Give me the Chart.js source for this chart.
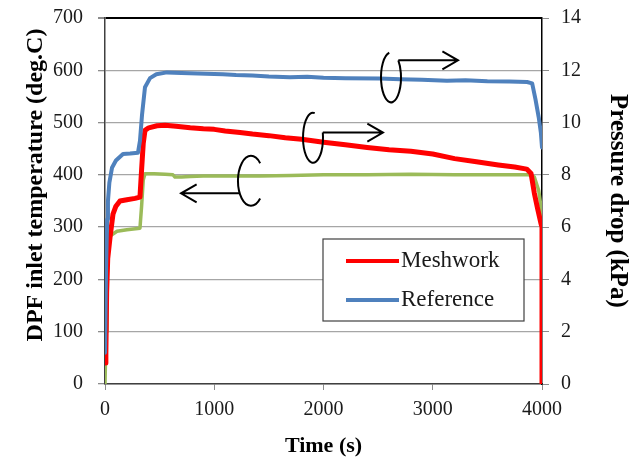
<!DOCTYPE html>
<html>
<head>
<meta charset="utf-8">
<script src="https://cdn.jsdelivr.net/npm/chart.js@4.4.1/dist/chart.umd.min.js"></script>
<style>
  html, body { margin: 0; padding: 0; background: #ffffff; }
  #grafico { display: block; }
</style>
</head>
<body>
<canvas id="grafico" width="638" height="460"></canvas>
<script>
// Time (s) and pressure drop (kPa) for the meshwork DPF
const tempoMesh = [0, 8, 15, 25, 46, 73, 100, 137, 200, 275, 320, 335, 350, 366, 400, 476, 550, 650, 780, 900,
    1000, 1100, 1236, 1350, 1500, 1650, 1800, 2000, 2200, 2400, 2600, 2800, 3000, 3200, 3400, 3600, 3750,
    3860, 3900, 3930, 3960, 3990, 4000, 4000];
const meshwork = [0.8, 1.2, 3.5, 4.8, 5.6, 6.5, 6.8, 7.0, 7.05, 7.1, 7.15, 8.2, 9.2, 9.7, 9.8, 9.88, 9.9, 9.86, 9.8, 9.76,
    9.74, 9.68, 9.62, 9.56, 9.5, 9.42, 9.36, 9.25, 9.15, 9.05, 8.96, 8.9, 8.8, 8.62, 8.5, 8.38, 8.3,
    8.22, 8.05, 7.3, 6.7, 6.15, 6.0, 0];

// Time (s) and pressure drop (kPa) for the reference DPF
const tempoRef = [0, 10, 20, 27, 40, 64, 100, 165, 230, 302, 320, 339, 366, 412, 470, 567, 700, 850, 1000, 1080,
    1200, 1350, 1500, 1693, 1850, 2000, 2200, 2517, 2700, 2900, 3130, 3300, 3500, 3700, 3863, 3910,
    3940, 3970, 3990, 4000];
const referencia = [1.2, 4.5, 6.3, 7.0, 7.7, 8.27, 8.55, 8.8, 8.82, 8.85, 9.3, 10.3, 11.35, 11.7, 11.85, 11.92, 11.9, 11.88, 11.86, 11.85,
    11.82, 11.8, 11.76, 11.73, 11.75, 11.71, 11.7, 11.69, 11.66, 11.64, 11.6, 11.62, 11.58, 11.57, 11.55, 11.5,
    10.9, 10.2, 9.6, 9.05];

// Time (s) and DPF inlet temperature (deg.C)
const tempoTemp = [0, 10, 18, 30, 46, 110, 200, 320, 335, 350, 366, 450, 550, 622, 640, 700, 780, 900, 1100, 1419,
    1700, 2000, 2400, 2800, 3200, 3600, 3880, 3930, 3970, 3990, 4000];
const temperatura = [0, 100, 200, 260, 283, 292, 295, 298, 340, 390, 402, 402, 401, 400, 396, 396, 397, 398, 398, 398,
    399, 400, 400, 401, 400, 400, 400, 396, 370, 340, 320];

// Tick values of the three axes
const ticksTempo = [0, 1000, 2000, 3000, 4000];
const ticksTemp = [0, 100, 200, 300, 400, 500, 600, 700];
const ticksPressao = [0, 2, 4, 6, 8, 10, 12, 14];

// Curly arrows: which axis each curve belongs to (centre and tip in time / kPa, angles in degrees)
const setas = [
    { centro: [1336, 7.77], ponta: [696, 7.31], raio: 13, abre: -45, fecha: 45, saida: 150 },
    { centro: [1904, 9.42], ponta: [2544, 9.62], raio: 10, abre: -80, fecha: -12, saida: -12 },
    { centro: [2618, 11.73], ponta: [3231, 12.38], raio: 10, abre: -100, fecha: -43, saida: -43 }
];

const fonte = "'Liberation Serif', 'Times New Roman', serif";
Chart.defaults.font.family = fonte;
Chart.defaults.color = '#1a1a1a';

function pontos(xs, ys) {
    return xs.map((x, i) => ({ x: x, y: ys[i] }));
}

// tira o espaço extra que o Chart.js reserva para os rótulos das pontas
function semFolga(largura, altura) {
    return s => {
        if (largura) s.width = largura;
        if (altura) s.height = altura;
        s.paddingTop = 0;
        s.paddingBottom = 0;
        s.paddingLeft = 0;
        s.paddingRight = 0;
    };
}

// desenha os arcos com as setas
const pluginSetas = {
    id: 'setas',
    afterDatasetsDraw(chart) {
        const ctx = chart.ctx;
        const sx = chart.scales.x;
        const sy = chart.scales.y1;
        ctx.save();
        ctx.strokeStyle = '#000000';
        ctx.lineWidth = 2;
        setas.forEach(s => {
            const cx = sx.getPixelForValue(s.centro[0]);
            const cy = sy.getPixelForValue(s.centro[1]);
            const rx = s.raio, ry = 25;
            ctx.beginPath();
            ctx.ellipse(cx, cy, rx, ry, 0, s.abre * Math.PI / 180, s.fecha * Math.PI / 180, true);
            ctx.stroke();
            const ai = s.saida * Math.PI / 180;
            const x0 = cx + rx * Math.cos(ai);
            const y0 = cy + ry * Math.sin(ai);
            const x1 = sx.getPixelForValue(s.ponta[0]);
            const y1 = y0;
            ctx.beginPath();
            ctx.moveTo(x0, y0);
            ctx.lineTo(x1, y1);
            const dir = x1 < x0 ? 1 : -1;
            const L = 18, ang = Math.PI / 6;
            ctx.moveTo(x1 + dir * L * Math.cos(ang), y1 - L * Math.sin(ang));
            ctx.lineTo(x1, y1);
            ctx.lineTo(x1 + dir * L * Math.cos(ang), y1 + L * Math.sin(ang));
            ctx.stroke();
        });
        ctx.restore();
    }
};

// título do eixo esquerdo (um pouco acima do centro)
const pluginTituloEsq = {
    id: 'tituloEsq',
    afterDraw(chart) {
        const ctx = chart.ctx;
        const area = chart.chartArea;
        ctx.save();
        ctx.translate(36, (area.top + area.bottom) / 2 - 16);
        ctx.rotate(-Math.PI / 2);
        ctx.font = "bold 24px " + fonte;
        ctx.fillStyle = '#000000';
        ctx.textAlign = 'center';
        ctx.textBaseline = 'middle';
        ctx.fillText('DPF inlet temperature (deg.C)', 0, 0);
        ctx.restore();
    }
};

// legenda dentro da área do gráfico
const pluginLegenda = {
    id: 'legendaInterna',
    afterDraw(chart) {
        const ctx = chart.ctx;
        const area = chart.chartArea;
        const bx = area.left + 218, by = area.top + 221, bw = 201, bh = 82;
        ctx.save();
        ctx.fillStyle = '#ffffff';
        ctx.fillRect(bx, by, bw, bh);
        ctx.strokeStyle = '#404040';
        ctx.lineWidth = 1.2;
        ctx.strokeRect(bx, by, bw, bh);
        const itens = chart.data.datasets
            .filter(d => d.posLegenda !== undefined)
            .sort((a, b) => a.posLegenda - b.posLegenda);
        itens.forEach((d, i) => {
            const y = by + 22 + i * 39;
            ctx.strokeStyle = d.borderColor;
            ctx.lineWidth = 4;
            ctx.beginPath();
            ctx.moveTo(bx + 23, y);
            ctx.lineTo(bx + 76, y);
            ctx.stroke();
            ctx.fillStyle = '#1a1a1a';
            ctx.font = "23px " + fonte;
            ctx.textBaseline = 'middle';
            ctx.fillText(d.label, bx + 78, y);
        });
        ctx.restore();
    }
};

const ctx = document.getElementById('grafico').getContext('2d');
const grafico = new Chart(ctx, {
    type: 'line',
    data: {
        datasets: [
            {
                label: 'Reference',
                data: pontos(tempoRef, referencia),
                yAxisID: 'y1',
                borderColor: '#4f81bd',
                borderWidth: 4,
                posLegenda: 1,
                order: 1
            },
            {
                label: 'Meshwork',
                data: pontos(tempoMesh, meshwork),
                yAxisID: 'y1',
                borderColor: '#ff0000',
                borderWidth: 5,
                posLegenda: 0,
                order: 2
            },
            {
                label: 'DPF inlet temperature',
                data: pontos(tempoTemp, temperatura),
                yAxisID: 'y',
                borderColor: '#9bbb59',
                borderWidth: 3.5,
                order: 3
            }
        ]
    },
    options: {
        responsive: false,
        animation: false,
        parsing: false,
        layout: { padding: { top: 18, left: 0, right: 0, bottom: 0 } },
        elements: {
            point: { radius: 0 },
            line: { tension: 0, borderJoinStyle: 'round', borderCapStyle: 'round' }
        },
        plugins: {
            legend: { display: false },
            tooltip: { enabled: false }
        },
        scales: {
            x: {
                type: 'linear',
                min: 0,
                max: 4000,
                afterBuildTicks: s => { s.ticks = ticksTempo.map(v => ({ value: v })); },
                afterFit: semFolga(0, 76),
                ticks: { font: { size: 20 }, padding: 8, maxRotation: 0, color: '#1a1a1a', callback: v => String(v) },
                grid: { drawOnChartArea: false, drawTicks: true, tickLength: 6, tickColor: '#8c8c8c' },
                border: { color: '#404040', width: 1.5 },
                title: {
                    display: true,
                    text: 'Time (s)',
                    font: { size: 22, weight: 'bold' },
                    color: '#000000',
                    padding: { top: 7, bottom: 0 }
                }
            },
            y: {
                position: 'left',
                min: 0,
                max: 700,
                afterBuildTicks: s => { s.ticks = ticksTemp.map(v => ({ value: v })); },
                afterFit: semFolga(105, 0),
                ticks: { font: { size: 20 }, padding: 15, color: '#1a1a1a', callback: v => String(v) },
                grid: {
                    color: c => (c.tick && c.tick.value === 700 ? '#000000' : '#a6a6a6'),
                    lineWidth: c => (c.tick && c.tick.value === 700 ? 2 : 1.3),
                    drawTicks: true,
                    tickLength: 7,
                    tickColor: '#8c8c8c'
                },
                border: { color: '#404040', width: 1.5 },
                title: { display: false }
            },
            y1: {
                position: 'right',
                min: 0,
                max: 14,
                afterBuildTicks: s => { s.ticks = ticksPressao.map(v => ({ value: v })); },
                afterFit: semFolga(96, 0),
                ticks: { font: { size: 20 }, padding: 12, color: '#1a1a1a', callback: v => String(v) },
                grid: { drawOnChartArea: false, drawTicks: true, tickLength: 7, tickColor: '#8c8c8c' },
                border: { color: '#000000', width: 1.5 },
                title: {
                    display: true,
                    text: 'Pressure drop (kPa)',
                    font: { size: 25, weight: 'bold' },
                    color: '#000000',
                    padding: { top: 6, bottom: 0 }
                }
            }
        }
    },
    plugins: [pluginSetas, pluginTituloEsq, pluginLegenda]
});
</script>
</body>
</html>
